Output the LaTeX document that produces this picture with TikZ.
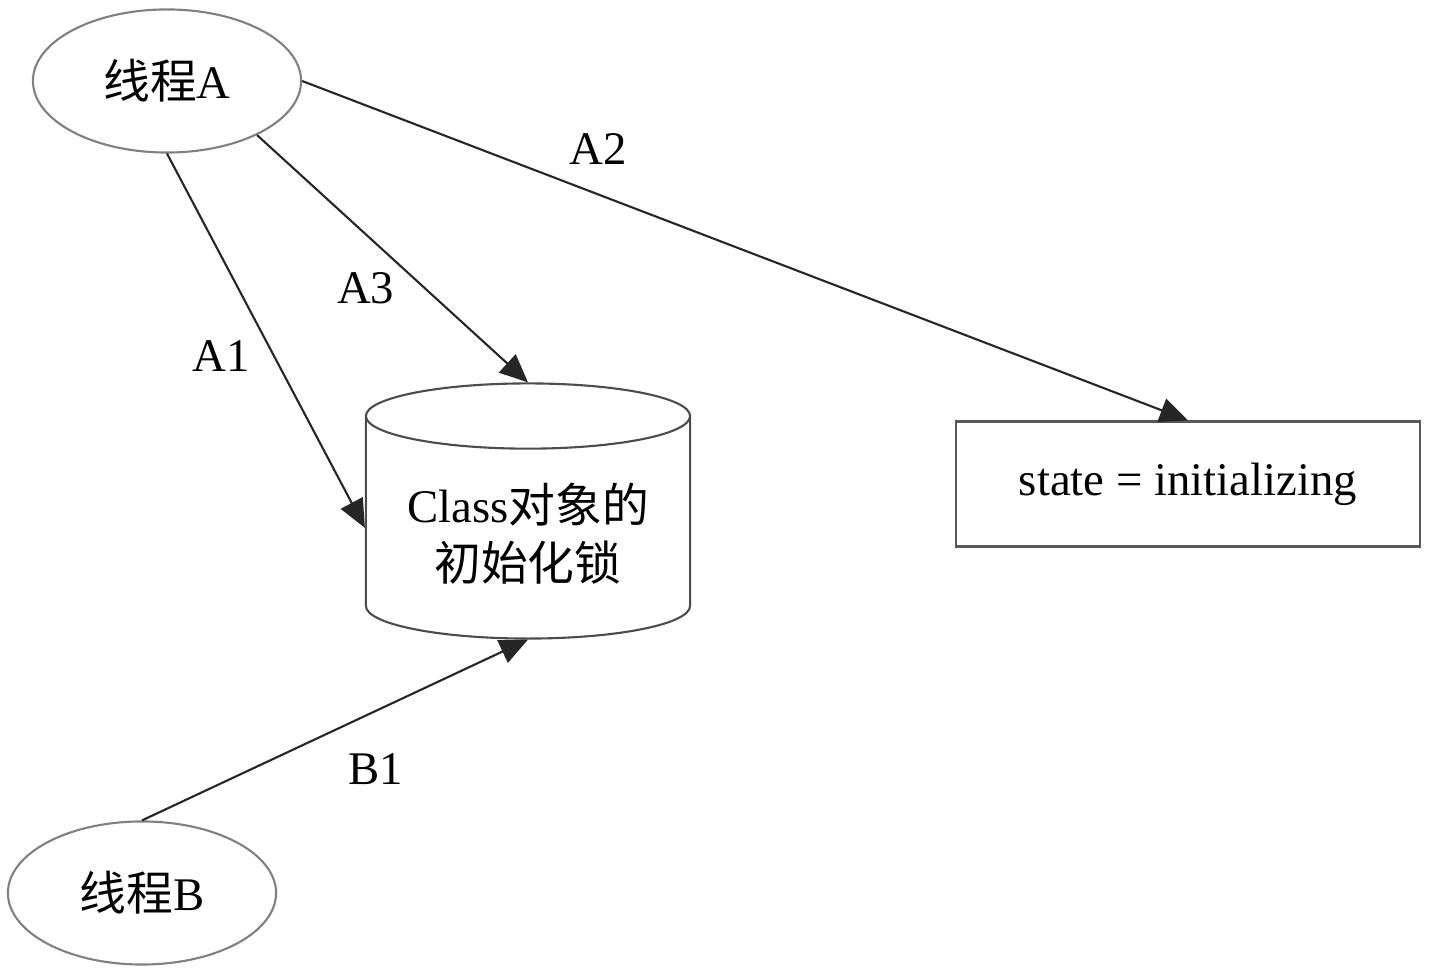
\documentclass[tikz,border=0pt]{standalone}
\usepackage{fontspec}
\setmainfont{Liberation Serif}
\newfontfamily\cjk{Noto Sans CJK SC}
\usepackage{tikz}
\usetikzlibrary{shapes.geometric, arrows.meta, positioning}

\begin{document}
\begin{tikzpicture}[
  x=0.01cm, y=-0.01cm,
  every node/.style={font=\fontsize{13.3}{16.5}\selectfont},
  th/.style={ellipse, draw=black!50, line width=0.6pt, minimum width=2.68cm, minimum height=1.43cm, inner sep=0pt},
  lk/.style={cylinder, shape border rotate=90, aspect=0.27, draw=black!70, line width=0.6pt, minimum width=3.24cm, minimum height=2.55cm, align=center, inner sep=0pt, text height=31pt},
  st/.style={rectangle, draw=black!65, line width=0.6pt, minimum width=4.63cm, minimum height=1.25cm},
  arr/.style={-{Triangle[length=8pt,width=7pt]}, line width=0.6pt, draw=black!85},
]
\useasboundingbox (0,0) rectangle (1429,968);
\node[th]                          (ta)  at (167,81)  {{\cjk 线程}A};
\node[th]                          (tb)  at (142,893) {{\cjk 线程}B};
\node[lk, anchor=shape center]     (lock) at (528,511) {Class{\cjk 对象的}\\{\cjk 初始化锁}};
\node[st]                          (state) at (1188,484) {state = initializing};

\draw[arr] (ta.south) -- node[pos=.54, left=0.11cm]{A1} (lock.west);
\draw[arr] (ta.east) -- node[pos=.334, above=0.17cm]{A2} (state.north);
\draw[arr] (ta.-31) -- node[pos=.62, left=0.18cm]{A3} (lock.top);
\draw[arr] (tb.north) -- node[pos=.605, below=0.3cm]{B1} (lock.bottom);
\end{tikzpicture}
\end{document}
